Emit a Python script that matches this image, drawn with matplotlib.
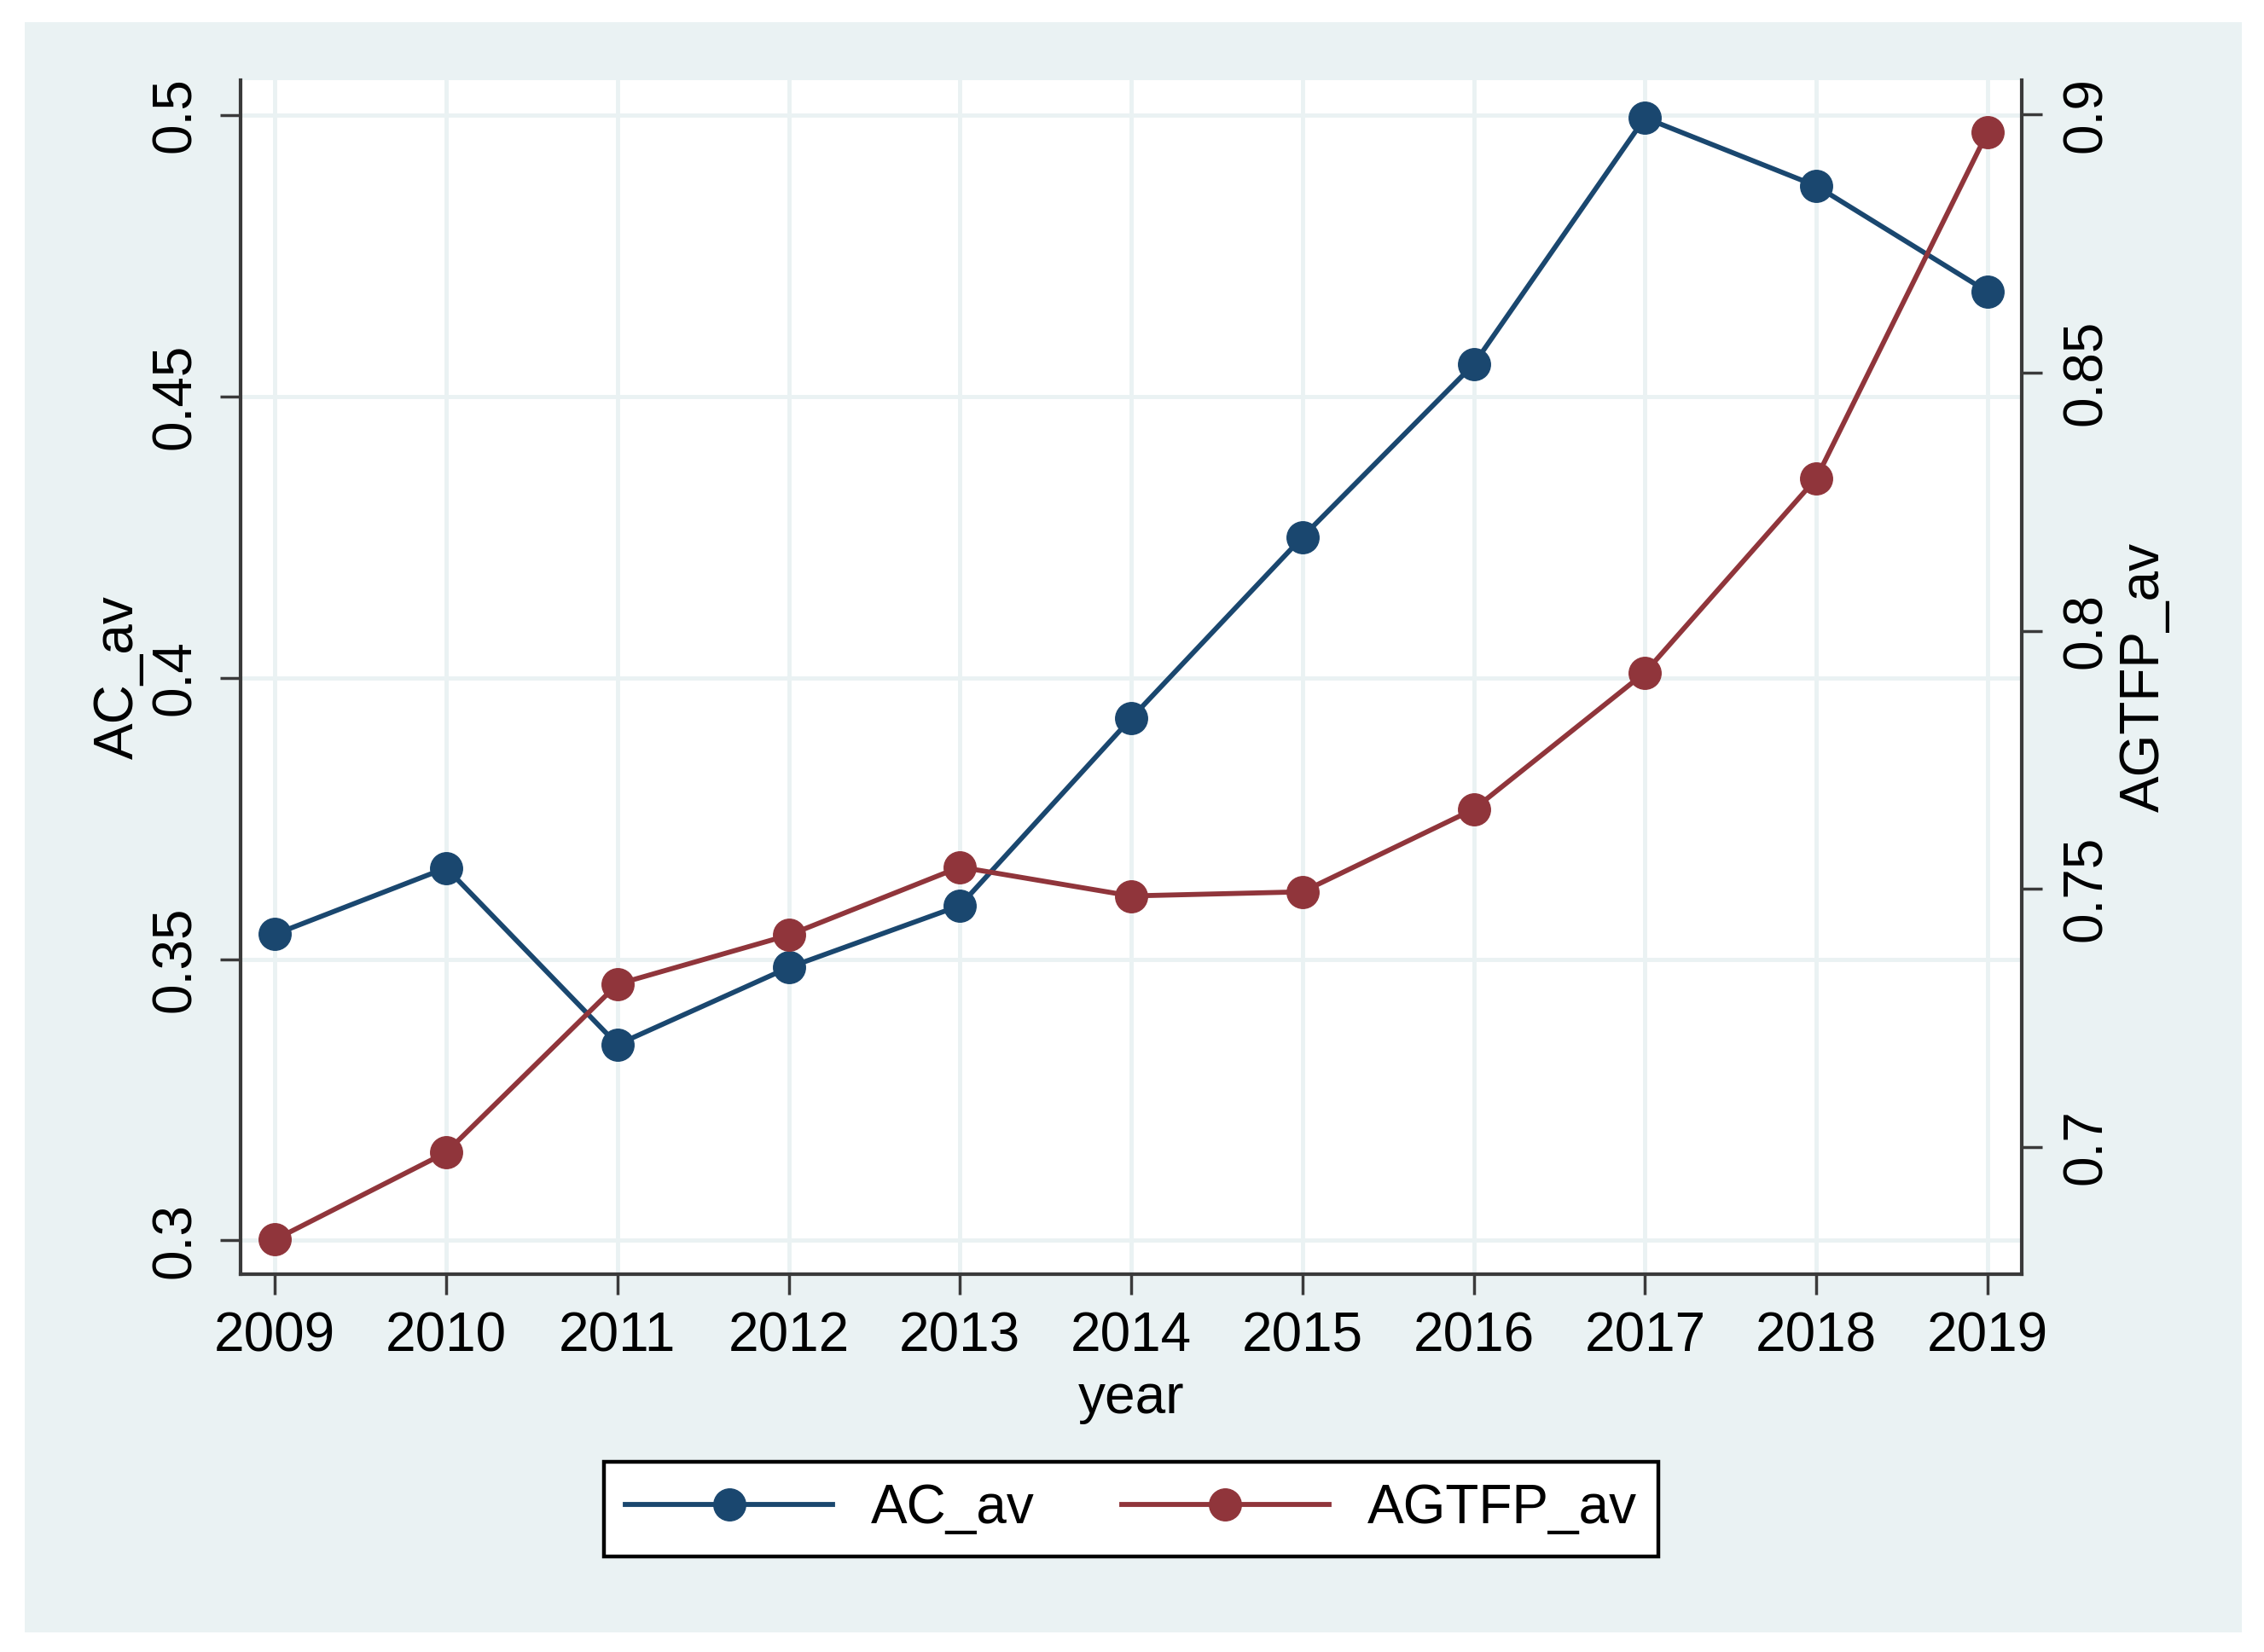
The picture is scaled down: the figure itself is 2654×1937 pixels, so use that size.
import matplotlib
matplotlib.use("Agg")
import matplotlib.pyplot as plt
from matplotlib.patches import Rectangle
from matplotlib.lines import Line2D

plt.rcParams['font.family'] = ['Liberation Sans', 'DejaVu Sans']

years = [2009, 2010, 2011, 2012, 2013, 2014, 2015, 2016, 2017, 2018, 2019]
ac_av = [0.3544, 0.3662, 0.3348, 0.3485, 0.3595, 0.3928, 0.4250, 0.4557, 0.4995, 0.4874, 0.4686]
agtfp_av = [0.682, 0.6989, 0.7315, 0.741, 0.7542, 0.7486, 0.7494, 0.7654, 0.7919, 0.8295, 0.8966]
left_ticks = [0.3, 0.35, 0.4, 0.45, 0.5]
left_labels = ['0.3', '0.35', '0.4', '0.45', '0.5']
right_ticks = [0.7, 0.75, 0.8, 0.85, 0.9]
right_labels = ['0.7', '0.75', '0.8', '0.85', '0.9']

BLUE = '#1a476f'
RED = '#90353b'
BG = '#eaf2f3'
AXC = '#3a3a3a'
FS = 46
LW = 4.2
MS = 27

fig = plt.figure(figsize=(26.54, 19.37), dpi=100)
fig.patch.set_facecolor('white')
fig.patches.append(Rectangle((0.0109, 0.0119), 0.9793, 0.9747, transform=fig.transFigure,
                             facecolor=BG, edgecolor='none', zorder=-10))

ax = fig.add_axes([0.1063, 0.2287, 0.7867, 0.7228])
ax.set_facecolor('white')
ax2 = ax.twinx()

ax.plot(years, ac_av, color=BLUE, lw=LW, marker='o', ms=MS, zorder=3)
ax2.plot(years, agtfp_av, color=RED, lw=LW, marker='o', ms=MS, zorder=3)

ax.set_xlim(2008.80, 2019.20)
ax.set_ylim(0.294, 0.5062)
ax2.set_ylim(0.6753, 0.9067)

ax.set_xticks(years)
ax.set_xticklabels([str(y) for y in years], fontsize=FS)
ax.set_yticks(left_ticks)
ax.set_yticklabels(left_labels, fontsize=FS, rotation=90, va='center')
ax2.set_yticks(right_ticks)
ax2.set_yticklabels(right_labels, fontsize=FS, rotation=90, va='center')

ax.grid(True, color=BG, lw=3.5)
ax.set_axisbelow(True)

for a in (ax, ax2):
    a.spines['top'].set_visible(False)
ax.spines['right'].set_visible(False)
ax2.spines['left'].set_visible(False)
ax2.spines['bottom'].set_visible(False)
for s in ('left', 'bottom'):
    ax.spines[s].set_color(AXC)
    ax.spines[s].set_linewidth(3)
ax2.spines['right'].set_color(AXC)
ax2.spines['right'].set_linewidth(3)

ax.tick_params(axis='x', length=17, width=2.5, color=AXC, pad=14)
ax.tick_params(axis='y', length=17, width=2.5, color=AXC, pad=16)
ax2.tick_params(axis='y', length=17, width=2.5, color=AXC, pad=16)

fig.text(139 / 2654, 1 - 794 / 1937, 'AC_av', fontsize=FS, rotation=90, ha='center', va='center')
fig.text(2514 / 2654, 1 - 794 / 1937, 'AGTFP_av', fontsize=FS, rotation=90, ha='center', va='center')
fig.text(1326 / 2654, 1 - 1640 / 1937, 'year', fontsize=FS, ha='center', va='center')

handles = [Line2D([], [], color=BLUE, lw=LW, marker='o', ms=MS),
           Line2D([], [], color=RED, lw=LW, marker='o', ms=MS)]
leg = fig.legend(handles, ['AC_av', 'AGTFP_av'], loc='center', bbox_to_anchor=(0.4996, 0.0867),
                 ncol=2, fontsize=FS, frameon=True, fancybox=False, framealpha=1,
                 edgecolor='black', handlelength=3.8, handletextpad=0.7, columnspacing=1.6,
                 borderpad=0.4)
leg.get_frame().set_linewidth(3.2)

fig.savefig('out.png', dpi=100, facecolor='white')
